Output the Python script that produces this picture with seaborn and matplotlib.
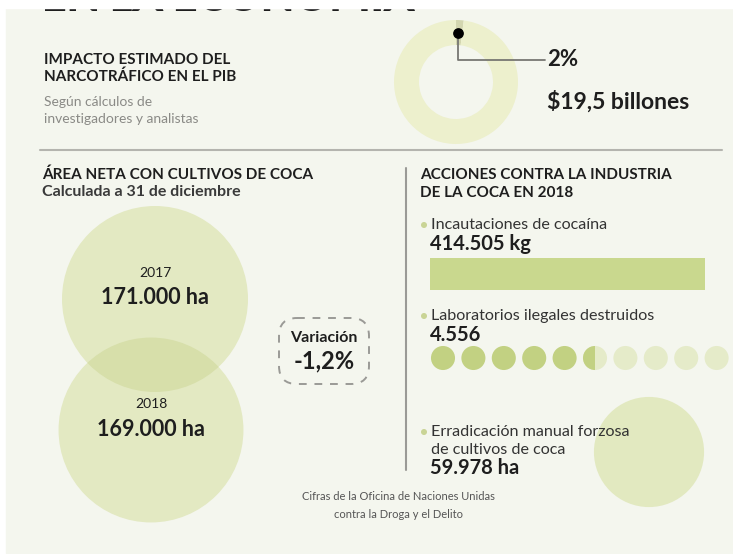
from matplotlib import pyplot as plt
from matplotlib.patches import Circle, Wedge, Rectangle, FancyBboxPatch
import pandas as pd
import numpy as np
import seaborn as sns

# datos
pib_partes = [2, 98]          # % del PIB
pib_etiqueta = "2%"
pib_valor = "$19,5 billones"
anios = ["2017", "2018"]
area_ha = [171000, 169000]
area_txt = ["171.000 ha", "169.000 ha"]
variacion = "-1,2%"
incautaciones_kg = [414505]
incautaciones_txt = "414.505 kg"
laboratorios_txt = "4.556"
n_puntos = 10
puntos_llenos = 5.5
erradicacion_ha = 59978
erradicacion_txt = "59.978 ha"

W, H = 733, 554
BG = "#f4f6ee"
TXT = "#1e1e1e"
GRIS = "#8a8a86"
VERDE_C = "#e3e9c2"
VERDE_M = "#d7dfaa"
VERDE_O = "#c2d182"
VERDE_L = "#e5ebc9"

sns.set_theme(style="white")
plt.rcParams['font.family'] = ['Lato', 'DejaVu Sans']

fig = plt.figure(figsize=(W / 100, H / 100), dpi=100)
fig.patch.set_facecolor("white")
ax = fig.add_axes([0, 0, 1, 1])
ax.set_xlim(0, W)
ax.set_ylim(H, 0)
ax.axis("off")

ax.add_patch(Rectangle((6, 8), W - 6, 545, color=BG, zorder=0))

# titular cortado arriba
ax.text(42, 11, "EN LA ECONOMÍA", fontsize=31, fontweight="heavy", color=TXT,
        va="baseline", ha="left", zorder=1)
ax.add_patch(Rectangle((0, -5), W, 13, color="white", zorder=2))

# bloque PIB
ax.text(44, 60, "IMPACTO ESTIMADO DEL", fontsize=11, fontweight="bold", color=TXT, va="center")
ax.text(44, 77, "NARCOTRÁFICO EN EL PIB", fontsize=11, fontweight="bold", color=TXT, va="center")
ax.text(44, 102, "Según cálculos de", fontsize=10, color=GRIS, va="center")
ax.text(44, 119, "investigadores y analistas", fontsize=10, color=GRIS, va="center")

cx, cy, r_out = 456, 82, 62
ax_d = fig.add_axes([(cx - r_out) / W, 1 - (cy + r_out) / H, 2 * r_out / W, 2 * r_out / H])
ax_d.pie(pib_partes, startangle=90, counterclock=False, colors=["#d3d6b0", "#edf0cd"],
         wedgeprops=dict(width=25 / 62, linewidth=0))
ax_d.set_xlim(-1, 1)
ax_d.set_ylim(-1, 1)
ax_d.set_aspect("equal")
ax_d.patch.set_alpha(0)

# linea y punto encima del donut
ax_d.plot([458, 458, 545], [33, 60, 60], color="#777772", lw=1.3, transform=ax.transData,
          clip_on=False, zorder=3)
ax_d.scatter([458], [33], s=45, color="black", transform=ax.transData, clip_on=False, zorder=4)
ax.text(547, 60, pib_etiqueta, fontsize=16, fontweight="bold", color=TXT, va="center")
ax.text(547, 102, pib_valor, fontsize=16.5, fontweight="bold", color=TXT, va="center")

ax.plot([40, 722], [150, 150], color="#b4b4ae", lw=1.5)
ax.plot([406, 406], [168, 470], color="#9a9a96", lw=1.5)

# area neta
ax.text(42, 175, "ÁREA NETA CON CULTIVOS DE COCA", fontsize=11, fontweight="bold", color=TXT, va="center")
ax.text(42, 192, "Calculada a 31 de diciembre", fontsize=11.5, fontweight="bold", color="#3a3a3a", va="center")

k = 93 / np.sqrt(area_ha[0])
centros = [(155, 299), (151, 430)]
circ = []
for (x0, y0), a in zip(centros, area_ha):
    c = Circle((x0, y0), k * np.sqrt(a), color=VERDE_C, lw=0, zorder=1)
    ax.add_patch(c)
    circ.append(c)
cruce = Circle(centros[1], k * np.sqrt(area_ha[1]), color=VERDE_M, lw=0, zorder=2)
ax.add_patch(cruce)
cruce.set_clip_path(circ[0])
for (x0, y0), anio, t in zip(centros, anios, area_txt):
    ax.text(x0, y0 - 26, anio, fontsize=10, color=TXT, ha="center", va="center", zorder=5)
    ax.text(x0, y0 - 1, t, fontsize=15.5, fontweight="bold", color=TXT, ha="center", va="center", zorder=5)

ax.add_patch(FancyBboxPatch((288, 327), 72, 48, boxstyle="round,pad=9,rounding_size=18",
                            fill=False, ec="#9a9a96", lw=1.4, ls=(0, (4, 4))))
ax.text(324, 338, "Variación", fontsize=11.5, fontweight="bold", color=TXT, ha="center", va="center")
ax.text(324, 361, variacion, fontsize=17, fontweight="bold", color=TXT, ha="center", va="center")

# acciones
ax.text(420, 175, "ACCIONES CONTRA LA INDUSTRIA", fontsize=11, fontweight="bold", color=TXT, va="center")
ax.text(420, 193, "DE LA COCA EN 2018", fontsize=11, fontweight="bold", color=TXT, va="center")

for yb, lineas, valor, yv in [(225, ["Incautaciones de cocaína"], incautaciones_txt, 244),
                              (316, ["Laboratorios ilegales destruidos"], laboratorios_txt, 335),
                              (432, ["Erradicación manual forzosa", "de cultivos de coca"], erradicacion_txt, 468)]:
    ax.add_patch(Circle((424, yb), 3, color="#c9d495", lw=0, zorder=5))
    for i, l in enumerate(lineas):
        ax.text(431, yb + 18 * i, l, fontsize=11.6, color="#333333", va="center", zorder=5)
    ax.text(430, yv, valor, fontsize=14.5, fontweight="bold", color=TXT, va="center", zorder=5)

# barra incautaciones
ax_b = fig.add_axes([430 / W, 1 - 290 / H, 275 / W, 32 / H])
sns.barplot(x=incautaciones_kg, y=[""], orient="h", color="#c9d88e", width=1, ax=ax_b,
            saturation=1, linewidth=0)
ax_b.set_xlim(0, incautaciones_kg[0])
ax_b.axis("off")

# puntos laboratorios
df_p = pd.DataFrame({"x": 443 + 30.4 * np.arange(n_puntos), "y": 358.0})
df_p["estado"] = np.where(np.arange(n_puntos) + 1 <= puntos_llenos, "lleno", "vacio")
sns.scatterplot(data=df_p, x="x", y="y", hue="estado", palette={"lleno": VERDE_O, "vacio": VERDE_L},
                s=300, linewidth=0, legend=False, ax=ax, zorder=3)
medio = int(np.floor(puntos_llenos))
if puntos_llenos > medio:
    xm = df_p.loc[medio, "x"]
    ax.add_patch(Wedge((xm, 358), 12, 90, 270, color=VERDE_O, lw=0, zorder=4))
ax.set_xlim(0, W)
ax.set_ylim(H, 0)
ax.set_xlabel("")
ax.set_ylabel("")

ax.add_patch(Circle((649, 452), k * np.sqrt(erradicacion_ha), color="#e2e9c0", lw=0, zorder=2))

ax.text(398, 497, "Cifras de la Oficina de Naciones Unidas", fontsize=8, color="#555555", ha="center", va="center")
ax.text(398, 514, "contra la Droga y el Delito", fontsize=8, color="#555555", ha="center", va="center")

fig.savefig("out.png", dpi=100, facecolor=fig.get_facecolor())
